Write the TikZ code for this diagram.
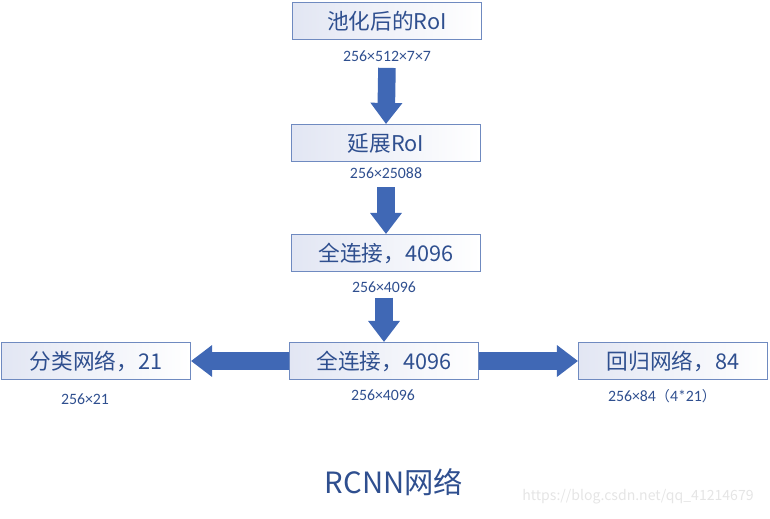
\documentclass[tikz,border=0pt]{standalone}
\usepackage{fontspec}
\setmainfont{Noto Sans CJK SC}
\newfontfamily\lat{Carlito}
\usepackage{tikz}
\usetikzlibrary{arrows.meta}
\definecolor{boxline}{HTML}{6F8AC0}
\definecolor{boxfill}{HTML}{E2E6F3}
\definecolor{txtblue}{HTML}{2F4F8F}
\definecolor{arrblue}{HTML}{4068B5}
\tikzset{
layer/.style={draw=boxline, line width=0.8pt, left color=boxfill, right color=white,
  minimum width=5.67cm, minimum height=1.11cm, inner sep=0pt, text=txtblue,
  font=\fontsize{18.5}{22}\selectfont},
dims/.style={text=txtblue, font=\lat\fontsize{13.5}{15}\selectfont},
fat/.style={arrblue, line width=15pt, -{Triangle[width=26pt,length=18pt]}}
}

\begin{document}
\begin{tikzpicture}[x=0.03cm,y=-0.03cm]
\useasboundingbox (0,0) rectangle (770,518);
% main column
\node[layer] (pool) at (387,21) {池化后的RoI};
\node[dims] (d1) at (387,56) {256×512×7×7};
\node[layer] (flat) at (386,143) {延展RoI};
\node[dims] (d2) at (386,173) {256×25088};
\node[layer] (fc1) at (386,253) {全连接，4096};
\node[dims] (d3) at (384,287) {256×4096};
\node[layer] (fc2) at (384,361) {全连接，4096};
\node[dims] (d4) at (383,395) {256×4096};
% heads
\node[layer] (cls) at (96,361) {分类网络，21};
\node[dims] (d5) at (85,399) {256×21};
\node[layer] (reg) at (673,361) {回归网络，84};
\node[dims] (d6) at (662,396) {256×84{\fontspec{Noto Sans CJK SC}\fontsize{12}{14}\selectfont（}4*21{\fontspec{Noto Sans CJK SC}\fontsize{12}{14}\selectfont）}};
% arrows
\draw[fat,shorten <=2pt] (d1.south) -- (flat.north);
\draw[fat,shorten <=4pt] (d2.south) -- (fc1.north);
\draw[fat,shorten <=1pt] (d3.south) -- (fc2.north);
\draw[fat] (fc2.west) -- (cls.east);
\draw[fat] (fc2.east) -- (reg.west);
% caption
\node[text=txtblue, font=\fontsize{25}{30}\selectfont] (title) at (394,482) {RCNN网络};
\node[text=black!10, font=\fontsize{12}{14}\selectfont] (mark) at (638,497) {https://blog.csdn.net/qq\_41214679};
\end{tikzpicture}
\end{document}
